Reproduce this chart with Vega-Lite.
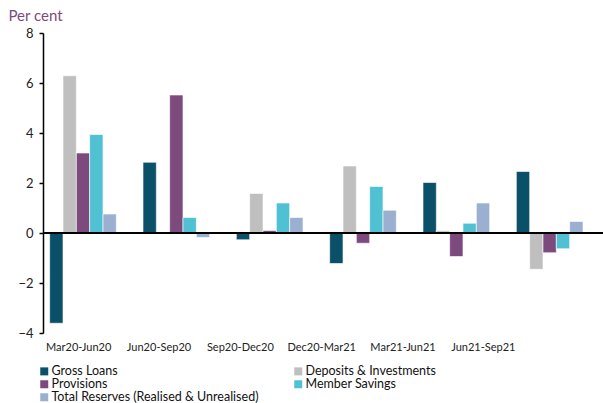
{
  "$schema": "https://vega.github.io/schema/vega-lite/v6.json",
  "width": 560,
  "height": 300,
  "autosize": "none",
  "padding": {"left": 43, "top": 33, "right": 0, "bottom": 70},
  "config": {"view": {"stroke": null}, "font": "Lato"},
  "data": {"values": [
    {"period": "Mar20-Jun20", "series": "Gross Loans", "value": -3.61},
    {"period": "Mar20-Jun20", "series": "Deposits & Investments", "value": 6.29},
    {"period": "Mar20-Jun20", "series": "Provisions", "value": 3.2},
    {"period": "Mar20-Jun20", "series": "Member Savings", "value": 3.94},
    {"period": "Mar20-Jun20", "series": "Total Reserves (Realised & Unrealised)", "value": 0.76},
    {"period": "Jun20-Sep20", "series": "Gross Loans", "value": 2.83},
    {"period": "Jun20-Sep20", "series": "Deposits & Investments", "value": 0},
    {"period": "Jun20-Sep20", "series": "Provisions", "value": 5.52},
    {"period": "Jun20-Sep20", "series": "Member Savings", "value": 0.62},
    {"period": "Jun20-Sep20", "series": "Total Reserves (Realised & Unrealised)", "value": -0.18},
    {"period": "Sep20-Dec20", "series": "Gross Loans", "value": -0.27},
    {"period": "Sep20-Dec20", "series": "Deposits & Investments", "value": 1.58},
    {"period": "Sep20-Dec20", "series": "Provisions", "value": 0.1},
    {"period": "Sep20-Dec20", "series": "Member Savings", "value": 1.2},
    {"period": "Sep20-Dec20", "series": "Total Reserves (Realised & Unrealised)", "value": 0.62},
    {"period": "Dec20-Mar21", "series": "Gross Loans", "value": -1.22},
    {"period": "Dec20-Mar21", "series": "Deposits & Investments", "value": 2.68},
    {"period": "Dec20-Mar21", "series": "Provisions", "value": -0.41},
    {"period": "Dec20-Mar21", "series": "Member Savings", "value": 1.86},
    {"period": "Dec20-Mar21", "series": "Total Reserves (Realised & Unrealised)", "value": 0.91},
    {"period": "Mar21-Jun21", "series": "Gross Loans", "value": 2.02},
    {"period": "Mar21-Jun21", "series": "Deposits & Investments", "value": 0.09},
    {"period": "Mar21-Jun21", "series": "Provisions", "value": -0.94},
    {"period": "Mar21-Jun21", "series": "Member Savings", "value": 0.39},
    {"period": "Mar21-Jun21", "series": "Total Reserves (Realised & Unrealised)", "value": 1.2},
    {"period": "Jun21-Sep21", "series": "Gross Loans", "value": 2.46},
    {"period": "Jun21-Sep21", "series": "Deposits & Investments", "value": -1.45},
    {"period": "Jun21-Sep21", "series": "Provisions", "value": -0.79},
    {"period": "Jun21-Sep21", "series": "Member Savings", "value": -0.63},
    {"period": "Jun21-Sep21", "series": "Total Reserves (Realised & Unrealised)", "value": 0.46}
  ]},
  "layer": [
    {
      "mark": {"type": "bar", "stroke": "white", "strokeOpacity": 0.6, "strokeWidth": 1},
      "encoding": {
        "x": {
          "field": "period", "type": "nominal", "sort": null,
          "scale": {"paddingInner": 0, "paddingOuter": 0},
          "axis": {
            "title": null, "domain": false, "ticks": false, "labelAngle": 0,
            "labelFont": "Lato", "labelFontSize": 11, "labelColor": "#222", "labelPadding": 8,
            "labelOffset": {"condition": [
              {"test": "datum.value == 'Mar20-Jun20'", "value": -11},
              {"test": "datum.value == 'Jun20-Sep20'", "value": -24},
              {"test": "datum.value == 'Sep20-Dec20'", "value": -36},
              {"test": "datum.value == 'Dec20-Mar21'", "value": -48},
              {"test": "datum.value == 'Mar21-Jun21'", "value": -60}
            ], "value": -73}
          }
        },
        "xOffset": {
          "field": "series", "type": "nominal",
          "scale": {"domain": ["Gross Loans", "Deposits & Investments", "Provisions", "Member Savings", "Total Reserves (Realised & Unrealised)", "pad"], "paddingInner": 0, "paddingOuter": 0.5}
        },
        "y": {
          "field": "value", "type": "quantitative",
          "scale": {"domain": [-4, 8], "nice": false, "zero": false},
          "axis": {
            "values": [-4, -2, 0, 2, 4, 6, 8], "grid": false,
            "domainColor": "black", "domainWidth": 1.5, "tickColor": "black", "tickWidth": 1.5, "tickSize": 4,
            "labelFont": "Lato", "labelFontSize": 13, "labelColor": "#222", "labelPadding": 6,
            "title": "Per cent", "titleAngle": 0, "titleX": -35, "titleY": -13, "titleAlign": "left",
            "titleBaseline": "alphabetic", "titleColor": "#7d4a7e", "titleFontSize": 15,
            "titleFontWeight": "normal", "titleFont": "Lato"
          }
        },
        "color": {
          "field": "series", "type": "nominal",
          "scale": {
            "domain": ["Gross Loans", "Deposits & Investments", "Provisions", "Member Savings", "Total Reserves (Realised & Unrealised)"],
            "range": ["#0b5069", "#bfbfbf", "#7d4a7e", "#4fc1d3", "#9bb0d0"]
          },
          "legend": {
            "title": null, "orient": "none", "legendX": -5, "legendY": 332, "direction": "horizontal",
            "columns": 2, "columnPadding": 33, "rowPadding": -1,
            "symbolType": "square", "symbolSize": 64, "symbolStrokeWidth": 0, "symbolOffset": 0,
            "labelFont": "Lato", "labelFontSize": 12.5, "labelColor": "#111", "labelOffset": 1, "labelLimit": 300
          }
        }
      }
    },
    {
      "mark": {"type": "rule", "color": "black", "strokeWidth": 2},
      "encoding": {"y": {"datum": 0}}
    }
  ]
}
